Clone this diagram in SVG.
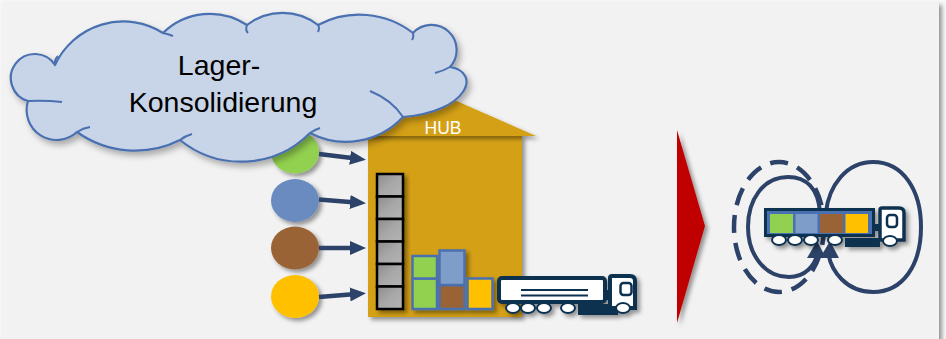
<svg xmlns="http://www.w3.org/2000/svg" width="946" height="339" viewBox="0 0 946 339">
  <defs>
    <style>
      .navy-fill { fill: #0e3250; }
      .navy-line { stroke: #0e3250; }
      .arrow { stroke: #2c4268; stroke-width: 4.5; fill: none; marker-end: url(#head); }
      .loop { stroke: #2c4268; stroke-width: 4; fill: none; }
      .wheel { fill: #ffffff; stroke: #0e3250; stroke-width: 2; }
      .shelf { fill: url(#boxGrad); stroke: #000000; stroke-width: 2.5; }
      .pkg { stroke: #4a70b0; stroke-width: 2.5; }
      .label { font-family: "Liberation Sans", Arial, sans-serif; }
    </style>
    <filter id="shadow" x="-20%" y="-20%" width="150%" height="150%">
      <feDropShadow dx="3" dy="3" stdDeviation="2" flood-color="#000000" flood-opacity="0.4"/>
    </filter>
    <filter id="softShadow" x="-10%" y="-10%" width="130%" height="140%">
      <feDropShadow dx="3" dy="4" stdDeviation="3" flood-color="#000000" flood-opacity="0.3"/>
    </filter>
    <linearGradient id="boxGrad" x1="0" y1="0" x2="1" y2="1">
      <stop offset="0" stop-color="#8c8c8c"/>
      <stop offset="0.5" stop-color="#a8a8a8"/>
      <stop offset="1" stop-color="#b4b4b4"/>
    </linearGradient>
    <marker id="head" viewBox="0 0 16 14" refX="6" refY="7" markerWidth="16" markerHeight="14" markerUnits="userSpaceOnUse" orient="auto">
      <path d="M0,0 L16,7 L0,14 z" fill="#2c4268"/>
    </marker>
  </defs>

  <!-- background panel -->
  <rect x="0" y="0" width="946" height="339" fill="#f7f7f7"/>
  <rect x="2" y="2" width="937" height="340" fill="#f2f2f2" filter="url(#shadow)"/>

  <!-- supplier nodes -->
  <g id="supplier-green" filter="url(#shadow)">
    <ellipse cx="295" cy="152" rx="24" ry="21.5" fill="#92d050"/>
  </g>
  <g id="supplier-blue" filter="url(#shadow)">
    <ellipse cx="295" cy="200.5" rx="24" ry="21.5" fill="#6a8bbf"/>
  </g>
  <g id="supplier-brown" filter="url(#shadow)">
    <ellipse cx="295" cy="248" rx="24" ry="21.5" fill="#9a6434"/>
  </g>
  <g id="supplier-yellow" filter="url(#shadow)">
    <ellipse cx="295" cy="296.5" rx="24" ry="21.5" fill="#ffc000"/>
  </g>

  <!-- hub building -->
  <g id="hub">
    <rect x="368" y="135" width="154" height="182" fill="#d4a012" filter="url(#shadow)"/>
    <polygon points="354,136 445,96 536,136" fill="#d4a012" filter="url(#shadow)"/>
    <text x="443" y="133.5" class="label" font-size="17.5" fill="#ffffff" text-anchor="middle">HUB</text>
  </g>

  <!-- delivery connectors -->
  <g id="connectors">
    <line class="arrow" x1="319" y1="154" x2="356" y2="158.5"/>
    <line class="arrow" x1="319" y1="199.5" x2="356" y2="202.5"/>
    <line class="arrow" x1="319" y1="248" x2="356" y2="248"/>
    <line class="arrow" x1="319" y1="297" x2="356" y2="294"/>
  </g>

  <!-- storage rack -->
  <g id="rack" filter="url(#shadow)">
    <rect class="shelf" x="377" y="174" width="26" height="22.5"/>
    <rect class="shelf" x="377" y="196.5" width="26" height="22.5"/>
    <rect class="shelf" x="377" y="219" width="26" height="22.5"/>
    <rect class="shelf" x="377" y="241.5" width="26" height="22.5"/>
    <rect class="shelf" x="377" y="264" width="26" height="22.5"/>
    <rect class="shelf" x="377" y="286.5" width="26" height="22.5"/>
  </g>

  <!-- consolidated packages -->
  <g id="packages" filter="url(#shadow)">
    <rect class="pkg" x="412.5" y="278.5" width="24.5" height="30.5" fill="#92d050"/>
    <rect class="pkg" x="412.5" y="256" width="24.5" height="22.5" fill="#92d050"/>
    <rect class="pkg" x="439.5" y="285" width="25" height="24" fill="#9a6434"/>
    <rect class="pkg" x="439.5" y="250.5" width="25" height="34.5" fill="#7f9dc9"/>
    <rect class="pkg" x="467.5" y="278.5" width="25" height="30.5" fill="#ffc000"/>
  </g>

  <!-- truck at the hub -->
  <g id="hub-truck" filter="url(#shadow)">
    <rect class="navy-fill" x="578" y="304" width="40" height="11"/>
    <rect class="navy-fill" x="604" y="290" width="8" height="10"/>
    <rect x="499" y="278" width="106" height="24" rx="3" fill="#ffffff" stroke="#0e3250" stroke-width="4"/>
    <line class="navy-line" x1="521" y1="290" x2="588" y2="290" stroke-width="1.8"/>
    <line class="navy-line" x1="521" y1="295.5" x2="588" y2="295.5" stroke-width="1.8"/>
    <path d="M610,308 L610,278 Q610,276 612,276 L630,276 Q635,276 635,281 L635,308 Z" fill="#ffffff" stroke="#0e3250" stroke-width="4"/>
    <rect x="620.5" y="283" width="11" height="12" rx="3" fill="#ffffff" stroke="#0e3250" stroke-width="2.5"/>
    <ellipse class="wheel" cx="513" cy="308" rx="7" ry="5"/>
    <ellipse class="wheel" cx="528" cy="308" rx="7" ry="5"/>
    <ellipse class="wheel" cx="544" cy="308" rx="7" ry="5"/>
    <ellipse class="wheel" cx="568" cy="308" rx="7" ry="5"/>
    <ellipse class="wheel" cx="623" cy="308" rx="7" ry="5"/>
  </g>

  <!-- consolidation cloud -->
  <g id="cloud">
    <path filter="url(#softShadow)" fill="#c8d4e7" stroke="#4a70b0" stroke-width="2.2" stroke-linejoin="round"
      d="M28,101 A24,24 0 1 1 55,65 A75,75 0 0 1 163,33 A67,67 0 0 1 247,25 A58,58 0 0 1 318,25 A88,88 0 0 1 413,33 A25,25 0 0 1 450,67 C482,72 468,112 403,117 A78,78 0 0 1 310,133 A97,97 0 0 1 180,140 A100,100 0 0 1 77,132 A30,30 0 0 1 28,101 Z"/>
    <g fill="none" stroke="#4a70b0" stroke-width="2">
      <path d="M28,101 Q45,100 62,102"/>
      <path d="M55,65 Q54,60 58,56"/>
      <path d="M163,33 Q168,34 173,36"/>
      <path d="M247,25 Q245,30 248,33"/>
      <path d="M318,25 Q320,28 318,32"/>
      <path d="M413,33 Q414,37 412,40"/>
      <path d="M450,67 Q443,71 435,73"/>
      <path d="M403,117 Q392,100 370,91"/>
      <path d="M310,133 Q314,130 320,128"/>
      <path d="M180,140 Q185,136 192,134"/>
      <path d="M77,132 Q83,128 90,127"/>
    </g>
    <text class="label" font-size="28.5" fill="#000000" text-anchor="middle">
      <tspan x="223" y="75">Lager-</tspan>
      <tspan x="223" y="112">Konsolidierung</tspan>
    </text>
  </g>

  <!-- transition arrow -->
  <g id="transition">
    <polygon points="677,130 705,226 677,323" fill="#c00000" filter="url(#shadow)"/>
  </g>

  <!-- milk-run loops -->
  <g id="loops">
    <ellipse cx="779" cy="227" rx="45" ry="65" fill="none" stroke="#2c4268" stroke-width="4.5" stroke-dasharray="18 10"/>
    <path class="loop" d="M820,212 C818,188 806,177 788,177 C763,177 748,200 748,227 C748,255 765,277 789,277 C805,277 815,266 818,252"/>
    <path class="loop" d="M826,212 C829,186 846,162 873,162 C903,162 921,190 921,227 C921,265 903,292 873,292 C847,292 831,272 828,252"/>
    <polygon points="807,258 817,241 826,258" fill="#2c4268"/>
    <polygon points="820,258 830,241 839,258" fill="#2c4268"/>
  </g>

  <!-- consolidated truck -->
  <g id="route-truck" filter="url(#shadow)">
    <rect class="navy-fill" x="845" y="238" width="35" height="9"/>
    <rect class="navy-fill" x="872" y="224" width="8" height="7"/>
    <rect class="navy-fill" x="764" y="208" width="111" height="29"/>
    <rect x="767" y="211" width="105" height="23" fill="#4a70b0"/>
    <rect x="770" y="214" width="23" height="19" fill="#92d050"/>
    <rect x="795.5" y="214" width="22" height="19" fill="#7f9dc9"/>
    <rect x="820" y="214" width="23" height="19" fill="#9a6434"/>
    <rect x="845.5" y="214" width="22.5" height="19" fill="#ffc000"/>
    <path d="M880,240 L880,210 Q880,208 882,208 L899,208 Q904,208 904,213 L904,240 Z" fill="#ffffff" stroke="#0e3250" stroke-width="3.5"/>
    <rect x="887" y="215" width="10" height="12" rx="3" fill="#ffffff" stroke="#0e3250" stroke-width="2.5"/>
    <ellipse class="wheel" cx="779" cy="240" rx="7" ry="5"/>
    <ellipse class="wheel" cx="795" cy="240" rx="7" ry="5"/>
    <ellipse class="wheel" cx="811" cy="240" rx="7" ry="5"/>
    <ellipse class="wheel" cx="835" cy="240" rx="7" ry="5"/>
    <ellipse class="wheel" cx="890" cy="241" rx="7" ry="5"/>
  </g>
</svg>
